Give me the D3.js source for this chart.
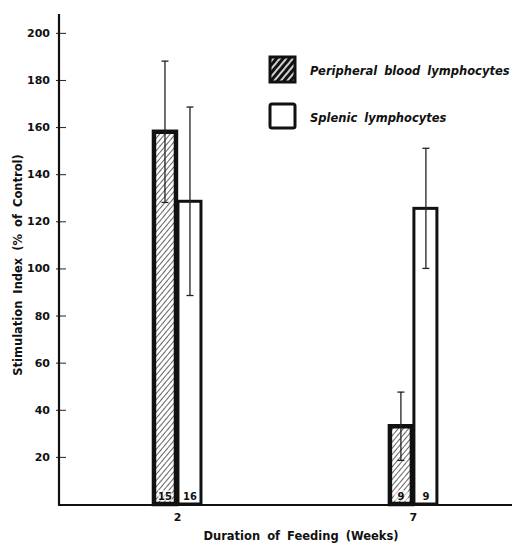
<html>
<meta charset='utf-8'>
<head>
    <script src="https://d3js.org/d3.v7.min.js"></script>
    <style>
      body { margin: 0; background: #fff; }
      text { font-family: "DejaVu Sans", sans-serif; font-weight: bold; fill: #111; }
    </style>
</head>
<body>
<div id='viz'></div>
<script>
    // data
    let weeks = [2, 7];
    let series = ['Peripheral blood lymphocytes', 'Splenic lymphocytes'];
    let bloodMean = [158, 33];
    let bloodErr = [30, 14.5];
    let bloodN = ['15', '9'];
    let splenicMean = [128.5, 125.5];
    let splenicErr = [40, 25.5];
    let splenicN = ['16', '9'];
    let yTicks = [20, 40, 60, 80, 100, 120, 140, 160, 180, 200];

    let svg = d3.select('#viz').append('svg')
                .attr('width', 516)
                .attr('height', 547);

    let defs = svg.append('defs');
    defs.append('pattern')
        .attr('id', 'hatch')
        .attr('patternUnits', 'userSpaceOnUse')
        .attr('width', 4).attr('height', 4)
        .attr('patternTransform', 'rotate(40)')
      .append('line')
        .attr('x1', 0).attr('y1', 0).attr('x2', 0).attr('y2', 4)
        .attr('stroke', '#111').attr('stroke-width', 1.3);
    let lg = defs.append('pattern')
        .attr('id', 'hatchDark')
        .attr('patternUnits', 'userSpaceOnUse')
        .attr('width', 5).attr('height', 5)
        .attr('patternTransform', 'rotate(40)');
    lg.append('rect').attr('width', 5).attr('height', 5).attr('fill', '#111');
    lg.append('line')
        .attr('x1', 2).attr('y1', 0).attr('x2', 2).attr('y2', 5)
        .attr('stroke', '#fff').attr('stroke-width', 1.6);

    let x = d3.scaleLinear().domain([-0.5, 9.1]).range([59, 512]);
    let y = d3.scaleLinear().domain([0, 208]).range([504, 14]);
    let barW = 25;

    // y axis
    let yAxis = svg.append('g').attr('transform', 'translate(59,0)')
        .call(d3.axisLeft(y).tickValues(yTicks).tickSize(0).tickPadding(9));
    yAxis.select('.domain').remove();
    yAxis.selectAll('text').style('font-size', '11px').style('font-family', '"DejaVu Sans", sans-serif').attr('fill', '#111');
    yAxis.selectAll('.tick').append('line')
        .attr('x1', -3).attr('x2', 7).attr('stroke', '#222').attr('stroke-width', 1);
    svg.append('line').attr('x1', 59).attr('x2', 59).attr('y1', y(208)).attr('y2', y(0) + 1)
        .attr('stroke', '#111').attr('stroke-width', 2.2);

    // x axis
    let xAxis = svg.append('g').attr('transform', 'translate(0,' + y(0) + ')')
        .call(d3.axisBottom(x).tickValues(weeks).tickSize(0).tickPadding(9));
    xAxis.select('.domain').remove();
    xAxis.selectAll('text').style('font-size', '11px').style('font-family', '"DejaVu Sans", sans-serif').attr('fill', '#111');
    svg.append('line').attr('x1', 58).attr('x2', 512).attr('y1', y(0) + 1).attr('y2', y(0) + 1)
        .attr('stroke', '#111').attr('stroke-width', 2.2);

    // bars
    let blood = weeks.map((w, i) => ({w: w, v: bloodMean[i], e: bloodErr[i], n: bloodN[i]}));
    let splenic = weeks.map((w, i) => ({w: w, v: splenicMean[i], e: splenicErr[i], n: splenicN[i]}));

    svg.selectAll('.bBar').data(blood).enter().append('rect')
        .attr('x', d => x(d.w) - barW + 2)
        .attr('y', d => y(d.v))
        .attr('width', barW - 3)
        .attr('height', d => y(0) - y(d.v))
        .attr('fill', 'url(#hatch)')
        .attr('stroke', '#111').attr('stroke-width', 4.5);

    svg.selectAll('.sBar').data(splenic).enter().append('rect')
        .attr('x', d => x(d.w) + 1)
        .attr('y', d => y(d.v))
        .attr('width', barW - 2)
        .attr('height', d => y(0) - y(d.v))
        .attr('fill', 'none')
        .attr('stroke', '#111').attr('stroke-width', 3);

    // error bars
    function errBars(data, cx) {
      let g = svg.append('g');
      data.forEach(d => {
        let c = cx(d);
        g.append('line').attr('x1', c).attr('x2', c)
          .attr('y1', y(d.v + d.e)).attr('y2', y(d.v - d.e))
          .attr('stroke', '#222').attr('stroke-width', 1.3);
        [d.v + d.e, d.v - d.e].forEach(t => {
          g.append('line').attr('x1', c - 3.5).attr('x2', c + 3.5)
            .attr('y1', y(t)).attr('y2', y(t))
            .attr('stroke', '#222').attr('stroke-width', 1.3);
        });
      });
    }
    errBars(blood, d => x(d.w) - barW / 2 + 0.5);
    errBars(splenic, d => x(d.w) + barW / 2 + 0.5);

    // counts
    blood.forEach(d => {
      let cx = x(d.w) - barW / 2 + 0.5;
      svg.append('rect').attr('x', cx - 7).attr('y', y(0) - 14).attr('width', 14).attr('height', 11)
        .attr('fill', '#fff').attr('opacity', 0.6);
      svg.append('text').attr('x', cx).attr('y', y(0) - 4)
        .attr('text-anchor', 'middle').style('font-size', '10px').text(d.n);
    });
    splenic.forEach(d => {
      svg.append('text').attr('x', x(d.w) + barW / 2 + 0.5).attr('y', y(0) - 4)
        .attr('text-anchor', 'middle').style('font-size', '10px').text(d.n);
    });

    // axis titles
    svg.append('text')
        .attr('transform', 'translate(22,265) rotate(-90)')
        .attr('text-anchor', 'middle')
        .style('font-size', '11.5px')
        .style('word-spacing', '3px')
        .text('Stimulation Index (% of Control)');
    svg.append('text')
        .attr('x', 301).attr('y', 540)
        .attr('text-anchor', 'middle')
        .style('font-size', '11.5px')
        .style('word-spacing', '3px')
        .text('Duration of Feeding (Weeks)');

    // legend
    let leg = svg.append('g');
    leg.append('rect').attr('x', 270).attr('y', 57).attr('width', 25).attr('height', 25)
        .attr('fill', 'url(#hatchDark)').attr('stroke', '#111').attr('stroke-width', 3);
    leg.append('rect').attr('x', 270).attr('y', 104).attr('width', 25).attr('height', 24)
        .attr('rx', 2)
        .attr('fill', '#fff').attr('stroke', '#111').attr('stroke-width', 3);
    leg.selectAll('.lt').data(series).enter().append('text')
        .attr('x', 310)
        .attr('y', (d, i) => 75 + i * 47)
        .style('font-size', '11.5px')
        .style('font-style', 'italic')
        .style('word-spacing', '3px')
        .text(d => d);
</script>
</body>
</html>
